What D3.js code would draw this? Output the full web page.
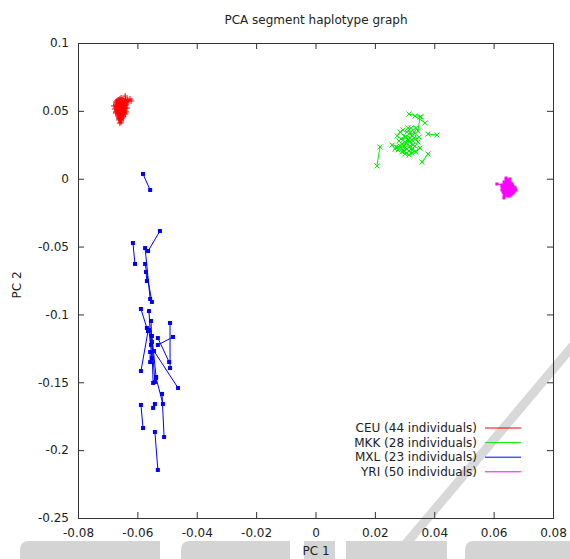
<!DOCTYPE html>
<html>
<head>
<meta charset="utf-8">
<script src="https://cdn.jsdelivr.net/npm/d3@7"></script>
<style>
  body { margin: 0; background: #fff; }
  svg { display: block; }
  text { font-family: "DejaVu Sans", sans-serif; fill: #222; }
</style>
</head>
<body>
<svg id="chart" width="570" height="559"></svg>
<script>
// Axis ticks
const xTicks = [-0.08, -0.06, -0.04, -0.02, 0, 0.02, 0.04, 0.06, 0.08];
const yTicks = [0.1, 0.05, 0, -0.05, -0.1, -0.15, -0.2, -0.25];

// Populations and number of individuals
const populations = ["CEU", "MKK", "MXL", "YRI"];
const individuals = [44, 28, 23, 50];

// One segment per individual: [pc1 of haplotype A, pc2 of A, pc1 of haplotype B, pc2 of B]
const ceu = [
  [-0.0655, 0.0595, -0.0632, 0.0580], [-0.0641, 0.0609, -0.0638, 0.0565],
  [-0.0665, 0.0580, -0.0652, 0.0565], [-0.0672, 0.0565, -0.0659, 0.0551],
  [-0.0679, 0.0536, -0.0665, 0.0521], [-0.0662, 0.0551, -0.0648, 0.0536],
  [-0.0652, 0.0580, -0.0641, 0.0551], [-0.0648, 0.0536, -0.0635, 0.0521],
  [-0.0669, 0.0506, -0.0655, 0.0521], [-0.0659, 0.0506, -0.0645, 0.0492],
  [-0.0672, 0.0492, -0.0662, 0.0477], [-0.0655, 0.0477, -0.0648, 0.0462],
  [-0.0665, 0.0462, -0.0652, 0.0447], [-0.0659, 0.0447, -0.0655, 0.0433],
  [-0.0655, 0.0433, -0.0659, 0.0410], [-0.0645, 0.0506, -0.0638, 0.0492],
  [-0.0669, 0.0536, -0.0655, 0.0544], [-0.0662, 0.0573, -0.0648, 0.0558],
  [-0.0638, 0.0544, -0.0625, 0.0587], [-0.0652, 0.0499, -0.0641, 0.0477],
  [-0.0676, 0.0514, -0.0665, 0.0499], [-0.0659, 0.0529, -0.0648, 0.0514],
  [-0.0662, 0.0484, -0.0652, 0.0470], [-0.0648, 0.0455, -0.0655, 0.0440],
  [-0.0669, 0.0558, -0.0659, 0.0536], [-0.0645, 0.0573, -0.0635, 0.0558],
  [-0.0665, 0.0514, -0.0652, 0.0506], [-0.0659, 0.0565, -0.0645, 0.0551],
  [-0.0652, 0.0529, -0.0662, 0.0514], [-0.0655, 0.0492, -0.0665, 0.0477],
  [-0.0648, 0.0484, -0.0659, 0.0470], [-0.0662, 0.0455, -0.0659, 0.0440],
  [-0.0652, 0.0551, -0.0641, 0.0536], [-0.0672, 0.0544, -0.0662, 0.0529],
  [-0.0641, 0.0521, -0.0648, 0.0506], [-0.0659, 0.0587, -0.0648, 0.0573],
  [-0.0669, 0.0573, -0.0662, 0.0558], [-0.0635, 0.0580, -0.0621, 0.0573],
  [-0.0655, 0.0462, -0.0662, 0.0447], [-0.0665, 0.0499, -0.0672, 0.0484],
  [-0.0645, 0.0544, -0.0652, 0.0521], [-0.0659, 0.0521, -0.0669, 0.0529],
  [-0.0652, 0.0470, -0.0645, 0.0484], [-0.0662, 0.0433, -0.0655, 0.0418]
];

const mkk = [
  [0.0315, 0.0477, 0.0355, 0.0455], [0.0335, 0.0462, 0.0369, 0.0411],
  [0.0352, 0.0455, 0.0345, 0.0352], [0.0379, 0.0329, 0.0409, 0.0322],
  [0.0217, 0.0234, 0.0207, 0.0094], [0.0379, 0.0182, 0.0359, 0.0123],
  [0.0285, 0.0344, 0.0312, 0.0285], [0.0345, 0.0271, 0.0332, 0.0344],
  [0.0258, 0.0248, 0.0301, 0.0226], [0.0268, 0.0219, 0.0318, 0.0300],
  [0.0295, 0.0285, 0.0325, 0.0212], [0.0305, 0.0263, 0.0278, 0.0212],
  [0.0318, 0.0241, 0.0338, 0.0197], [0.0291, 0.0197, 0.0315, 0.0175],
  [0.0301, 0.0307, 0.0328, 0.0248], [0.0281, 0.0278, 0.0308, 0.0219],
  [0.0325, 0.0315, 0.0298, 0.0241], [0.0312, 0.0374, 0.0332, 0.0300],
  [0.0352, 0.0226, 0.0325, 0.0189], [0.0275, 0.0315, 0.0295, 0.0359],
  [0.0318, 0.0337, 0.0338, 0.0374], [0.0301, 0.0182, 0.0285, 0.0241],
  [0.0328, 0.0278, 0.0349, 0.0307], [0.0291, 0.0256, 0.0318, 0.0278],
  [0.0308, 0.0344, 0.0322, 0.0374], [0.0271, 0.0234, 0.0298, 0.0204],
  [0.0335, 0.0241, 0.0315, 0.0204], [0.0288, 0.0293, 0.0305, 0.0307]
];

const mxl = [
  [-0.0581, 0.0035, -0.0557, -0.0083], [-0.0524, -0.0385, -0.0564, -0.0533],
  [-0.0615, -0.0474, -0.0608, -0.0628], [-0.0574, -0.0511, -0.0557, -0.0886],
  [-0.0574, -0.0628, -0.0551, -0.0908], [-0.0571, -0.0687, -0.0568, -0.0754],
  [-0.0588, -0.0960, -0.0568, -0.1100], [-0.0554, -0.1048, -0.0547, -0.1505],
  [-0.0490, -0.1063, -0.0490, -0.1395], [-0.0480, -0.1166, -0.0531, -0.1225],
  [-0.0551, -0.1159, -0.0537, -0.1461], [-0.0531, -0.1174, -0.0493, -0.1351],
  [-0.0551, -0.1203, -0.0541, -0.1498], [-0.0544, -0.1270, -0.0463, -0.1542],
  [-0.0588, -0.1417, -0.0564, -0.1122], [-0.0557, -0.1277, -0.0557, -0.1351],
  [-0.0517, -0.1586, -0.0510, -0.1903], [-0.0514, -0.1660, -0.0537, -0.1468],
  [-0.0588, -0.1667, -0.0581, -0.1837], [-0.0541, -0.1660, -0.0547, -0.1689],
  [-0.0541, -0.1866, -0.0531, -0.2146], [-0.0561, -0.1115, -0.0551, -0.1321],
  [-0.0561, -0.0975, -0.0554, -0.1225]
];

const yri = [
  [0.0642, 0.0005, 0.0648, -0.0009], [0.0655, -0.0002, 0.0648, -0.0024],
  [0.0611, -0.0039, 0.0635, -0.0046], [0.0635, -0.0024, 0.0648, -0.0039],
  [0.0655, -0.0024, 0.0662, -0.0039], [0.0628, -0.0046, 0.0642, -0.0054],
  [0.0648, -0.0046, 0.0662, -0.0061], [0.0662, -0.0046, 0.0669, -0.0061],
  [0.0628, -0.0061, 0.0642, -0.0068], [0.0642, -0.0061, 0.0655, -0.0076],
  [0.0655, -0.0061, 0.0669, -0.0076], [0.0669, -0.0068, 0.0675, -0.0083],
  [0.0635, -0.0076, 0.0648, -0.0083], [0.0648, -0.0083, 0.0662, -0.0098],
  [0.0628, -0.0083, 0.0642, -0.0098], [0.0662, -0.0083, 0.0669, -0.0098],
  [0.0642, -0.0098, 0.0655, -0.0113], [0.0655, -0.0098, 0.0662, -0.0113],
  [0.0635, -0.0105, 0.0642, -0.0120], [0.0648, -0.0113, 0.0655, -0.0127],
  [0.0635, -0.0127, 0.0635, -0.0142], [0.0648, -0.0031, 0.0642, -0.0054],
  [0.0655, -0.0039, 0.0648, -0.0061], [0.0662, -0.0054, 0.0655, -0.0068],
  [0.0642, -0.0068, 0.0635, -0.0091], [0.0655, -0.0076, 0.0648, -0.0098],
  [0.0669, -0.0091, 0.0662, -0.0105], [0.0648, -0.0105, 0.0642, -0.0113],
  [0.0638, -0.0039, 0.0652, -0.0031], [0.0645, -0.0017, 0.0652, -0.0031],
  [0.0632, -0.0054, 0.0645, -0.0046], [0.0658, -0.0054, 0.0665, -0.0068],
  [0.0632, -0.0068, 0.0638, -0.0083], [0.0645, -0.0076, 0.0658, -0.0068],
  [0.0665, -0.0076, 0.0672, -0.0068], [0.0638, -0.0091, 0.0652, -0.0091],
  [0.0658, -0.0091, 0.0665, -0.0083], [0.0645, -0.0091, 0.0638, -0.0105],
  [0.0652, -0.0105, 0.0665, -0.0098], [0.0645, -0.0120, 0.0652, -0.0113],
  [0.0638, -0.0113, 0.0645, -0.0105], [0.0652, -0.0046, 0.0658, -0.0039],
  [0.0638, -0.0061, 0.0652, -0.0054], [0.0665, -0.0061, 0.0658, -0.0076],
  [0.0645, -0.0083, 0.0652, -0.0076], [0.0632, -0.0098, 0.0645, -0.0091],
  [0.0658, -0.0113, 0.0665, -0.0105], [0.0648, -0.0017, 0.0642, -0.0009],
  [0.0652, -0.0068, 0.0645, -0.0061], [0.0640, -0.0120, 0.0648, -0.0127]
];

const colors = ["#ff0000", "#00ee00", "#0000ff", "#ff00ff"];
const markers = ["plus", "cross", "square", "dot"];
const segments = [ceu, mkk, mxl, yri];

const series = populations.map((name, i) => ({
  name, n: individuals[i], segs: segments[i], color: colors[i], marker: markers[i]
}));

// Layout
const width = 570, height = 559;
const plot = { left: 78, right: 553, top: 43, bottom: 518 };

const svg = d3.select("#chart");

// Background mark behind the plot
const wm = svg.append("g").attr("fill", "#d4d4d4");
wm.append("line")
  .attr("x1", 588).attr("y1", 328).attr("x2", 404).attr("y2", 546)
  .attr("stroke", "#d8d8d8").attr("stroke-width", 9);
const blocks = [[20, 160, 9], [181, 290, 9], [304, 335, 0], [346, 447, 0], [465, 575, 9]];
blocks.forEach(([a, b, r]) => {
  const t = 541;
  wm.append("path").attr("d",
    `M${a},${height}V${t + r}Q${a},${t} ${a + r},${t}H${b}V${height}Z`);
});

const x = d3.scaleLinear().domain([xTicks[0], xTicks[xTicks.length - 1]]).range([plot.left, plot.right]);
const y = d3.scaleLinear().domain([yTicks[yTicks.length - 1], yTicks[0]]).range([plot.bottom, plot.top]);

const fmt = d => String(d);

// Axes with inward ticks on all four sides
const axisStyle = g => {
  g.select(".domain").remove();
  g.selectAll(".tick line").attr("stroke", "#333");
  g.selectAll(".tick text").attr("font-size", 12).attr("fill", "#222")
    .style("font-family", "'DejaVu Sans', sans-serif");
};
svg.append("g").attr("transform", `translate(0,${plot.bottom})`)
  .call(d3.axisBottom(x).tickValues(xTicks).tickSize(-6).tickPadding(10).tickFormat(fmt))
  .call(axisStyle);
svg.append("g").attr("transform", `translate(0,${plot.top})`)
  .call(d3.axisTop(x).tickValues(xTicks).tickSize(-6).tickFormat(""))
  .call(axisStyle);
svg.append("g").attr("transform", `translate(${plot.left},0)`)
  .call(d3.axisLeft(y).tickValues(yTicks).tickSize(-6).tickPadding(9).tickFormat(fmt))
  .call(axisStyle);
svg.append("g").attr("transform", `translate(${plot.right},0)`)
  .call(d3.axisRight(y).tickValues(yTicks).tickSize(-6).tickFormat(""))
  .call(axisStyle);

svg.append("rect")
  .attr("x", plot.left + 0.5).attr("y", plot.top + 0.5)
  .attr("width", plot.right - plot.left).attr("height", plot.bottom - plot.top)
  .attr("fill", "none").attr("stroke", "#333").attr("stroke-width", 1);

// Title and axis labels
svg.append("text").attr("x", 316).attr("y", 24).attr("text-anchor", "middle")
  .attr("font-size", 12).text("PCA segment haplotype graph");
svg.append("text").attr("x", 316).attr("y", 555).attr("text-anchor", "middle")
  .attr("font-size", 12).text("PC 1");
svg.append("text").attr("transform", "translate(21,285) rotate(-90)")
  .attr("text-anchor", "middle").attr("font-size", 12).text("PC 2");

// Marker shapes
function drawMarker(g, type, px, py, color) {
  if (type === "plus") {
    g.append("path").attr("d", `M${px - 3},${py}H${px + 3}M${px},${py - 3}V${py + 3}`)
      .attr("stroke", color).attr("fill", "none");
  } else if (type === "cross") {
    g.append("path").attr("d", `M${px - 2.5},${py - 2.5}L${px + 2.5},${py + 2.5}M${px - 2.5},${py + 2.5}L${px + 2.5},${py - 2.5}`)
      .attr("stroke", color).attr("fill", "none");
  } else if (type === "square") {
    g.append("rect").attr("x", px - 2).attr("y", py - 2).attr("width", 4).attr("height", 4)
      .attr("fill", color);
  } else {
    g.append("rect").attr("x", px - 1.5).attr("y", py - 1.5).attr("width", 3).attr("height", 3)
      .attr("fill", color);
  }
}

// Segments: one line per individual joining its two haplotypes
const plotArea = svg.append("g");
series.forEach(s => {
  const g = plotArea.append("g").attr("class", "series-" + s.name);
  g.selectAll("line").data(s.segs).join("line")
    .attr("x1", d => x(d[0])).attr("y1", d => y(d[1]))
    .attr("x2", d => x(d[2])).attr("y2", d => y(d[3]))
    .attr("stroke", s.color).attr("stroke-width", 1);
  s.segs.forEach(d => {
    drawMarker(g, s.marker, x(d[0]), y(d[1]), s.color);
    drawMarker(g, s.marker, x(d[2]), y(d[3]), s.color);
  });
});

// Legend
const legend = svg.append("g");
series.forEach((s, i) => {
  const ly = 428 + i * 14.6;
  legend.append("text").attr("x", 477).attr("y", ly).attr("dy", "0.35em")
    .attr("text-anchor", "end").attr("font-size", 12)
    .text(`${s.name} (${s.n} individuals)`);
  legend.append("line").attr("x1", 485).attr("x2", 521).attr("y1", ly).attr("y2", ly)
    .attr("stroke", s.color).attr("stroke-width", 1);
});
</script>
</body>
</html>
